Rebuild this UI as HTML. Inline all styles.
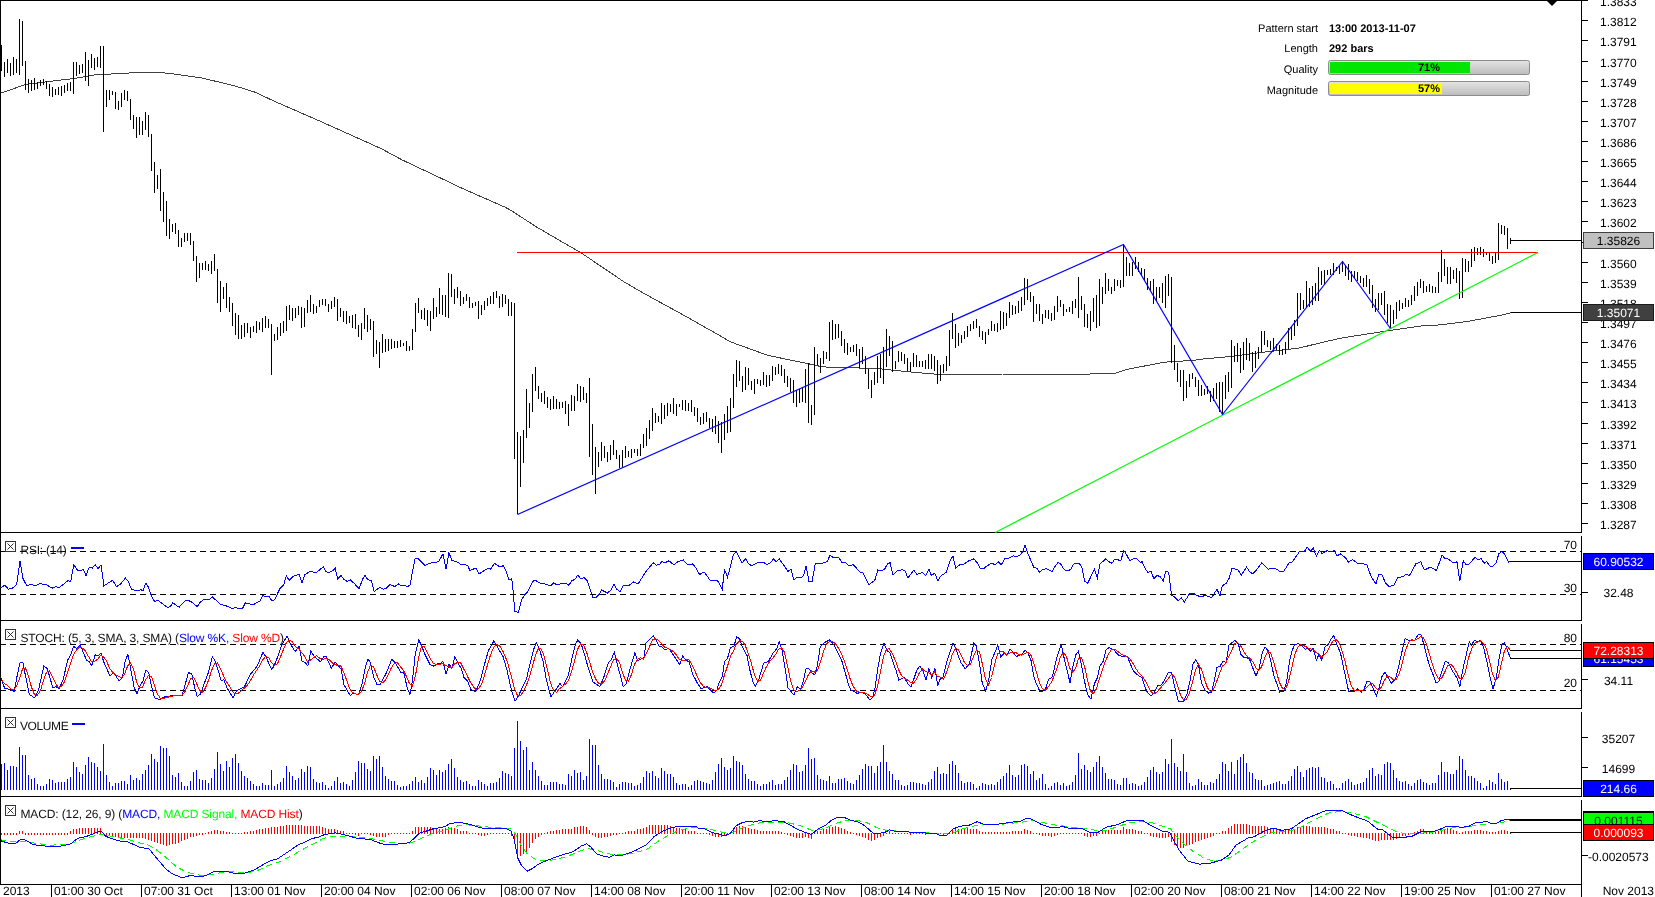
<!DOCTYPE html>
<html lang="en"><head><meta charset="utf-8"><title>EUR/USD pattern chart</title>
<style>html,body{margin:0;padding:0;background:#fff;overflow:hidden}svg{display:block;font-family:"Liberation Sans", Arial, sans-serif;font-size:12px;will-change:transform}.info{position:absolute;left:0;top:0}</style></head><body>
<svg width="1655" height="897" viewBox="0 0 1655 897" shape-rendering="crispEdges" text-rendering="geometricPrecision">
<rect width="1655" height="897" fill="#fff"/>
<rect x="0" y="0" width="1" height="885" fill="#000"/>
<rect x="0" y="0" width="1582" height="1" fill="#000"/>
<rect x="0" y="532" width="1582" height="1" fill="#000"/>
<rect x="0" y="620" width="1582" height="1" fill="#000"/>
<rect x="0" y="708" width="1582" height="1" fill="#000"/>
<rect x="0" y="796" width="1582" height="1" fill="#000"/>
<rect x="0" y="884" width="1582" height="1" fill="#000"/>
<rect x="1581" y="0" width="1" height="533" fill="#000"/>
<rect x="1581" y="536" width="1" height="85" fill="#000"/>
<rect x="1581" y="624" width="1" height="85" fill="#000"/>
<rect x="1581" y="712" width="1" height="85" fill="#000"/>
<rect x="1581" y="800" width="1" height="97" fill="#000"/>
<polygon points="1546,0 1558,0 1552,6" fill="#000" shape-rendering="geometricPrecision"/>
<rect x="1581" y="0" width="7" height="1" fill="#000"/>
<text x="1600" y="5.6" text-anchor="start" fill="#000" font-weight="normal" font-size="12">1.3833</text>
<rect x="1581" y="20" width="7" height="1" fill="#000"/>
<text x="1600" y="25.6" text-anchor="start" fill="#000" font-weight="normal" font-size="12">1.3812</text>
<rect x="1581" y="40" width="7" height="1" fill="#000"/>
<text x="1600" y="45.6" text-anchor="start" fill="#000" font-weight="normal" font-size="12">1.3791</text>
<rect x="1581" y="61" width="7" height="1" fill="#000"/>
<text x="1600" y="66.6" text-anchor="start" fill="#000" font-weight="normal" font-size="12">1.3770</text>
<rect x="1581" y="81" width="7" height="1" fill="#000"/>
<text x="1600" y="86.6" text-anchor="start" fill="#000" font-weight="normal" font-size="12">1.3749</text>
<rect x="1581" y="101" width="7" height="1" fill="#000"/>
<text x="1600" y="106.6" text-anchor="start" fill="#000" font-weight="normal" font-size="12">1.3728</text>
<rect x="1581" y="121" width="7" height="1" fill="#000"/>
<text x="1600" y="126.6" text-anchor="start" fill="#000" font-weight="normal" font-size="12">1.3707</text>
<rect x="1581" y="141" width="7" height="1" fill="#000"/>
<text x="1600" y="146.6" text-anchor="start" fill="#000" font-weight="normal" font-size="12">1.3686</text>
<rect x="1581" y="161" width="7" height="1" fill="#000"/>
<text x="1600" y="166.6" text-anchor="start" fill="#000" font-weight="normal" font-size="12">1.3665</text>
<rect x="1581" y="181" width="7" height="1" fill="#000"/>
<text x="1600" y="186.6" text-anchor="start" fill="#000" font-weight="normal" font-size="12">1.3644</text>
<rect x="1581" y="201" width="7" height="1" fill="#000"/>
<text x="1600" y="206.6" text-anchor="start" fill="#000" font-weight="normal" font-size="12">1.3623</text>
<rect x="1581" y="221" width="7" height="1" fill="#000"/>
<text x="1600" y="226.6" text-anchor="start" fill="#000" font-weight="normal" font-size="12">1.3602</text>
<rect x="1581" y="242" width="7" height="1" fill="#000"/>
<text x="1600" y="247.6" text-anchor="start" fill="#000" font-weight="normal" font-size="12">1.3581</text>
<rect x="1581" y="262" width="7" height="1" fill="#000"/>
<text x="1600" y="267.6" text-anchor="start" fill="#000" font-weight="normal" font-size="12">1.3560</text>
<rect x="1581" y="282" width="7" height="1" fill="#000"/>
<text x="1600" y="287.6" text-anchor="start" fill="#000" font-weight="normal" font-size="12">1.3539</text>
<rect x="1581" y="302" width="7" height="1" fill="#000"/>
<text x="1600" y="307.6" text-anchor="start" fill="#000" font-weight="normal" font-size="12">1.3518</text>
<rect x="1581" y="322" width="7" height="1" fill="#000"/>
<text x="1600" y="327.6" text-anchor="start" fill="#000" font-weight="normal" font-size="12">1.3497</text>
<rect x="1581" y="342" width="7" height="1" fill="#000"/>
<text x="1600" y="347.6" text-anchor="start" fill="#000" font-weight="normal" font-size="12">1.3476</text>
<rect x="1581" y="362" width="7" height="1" fill="#000"/>
<text x="1600" y="367.6" text-anchor="start" fill="#000" font-weight="normal" font-size="12">1.3455</text>
<rect x="1581" y="382" width="7" height="1" fill="#000"/>
<text x="1600" y="387.6" text-anchor="start" fill="#000" font-weight="normal" font-size="12">1.3434</text>
<rect x="1581" y="402" width="7" height="1" fill="#000"/>
<text x="1600" y="407.6" text-anchor="start" fill="#000" font-weight="normal" font-size="12">1.3413</text>
<rect x="1581" y="423" width="7" height="1" fill="#000"/>
<text x="1600" y="428.6" text-anchor="start" fill="#000" font-weight="normal" font-size="12">1.3392</text>
<rect x="1581" y="443" width="7" height="1" fill="#000"/>
<text x="1600" y="448.6" text-anchor="start" fill="#000" font-weight="normal" font-size="12">1.3371</text>
<rect x="1581" y="463" width="7" height="1" fill="#000"/>
<text x="1600" y="468.6" text-anchor="start" fill="#000" font-weight="normal" font-size="12">1.3350</text>
<rect x="1581" y="483" width="7" height="1" fill="#000"/>
<text x="1600" y="488.6" text-anchor="start" fill="#000" font-weight="normal" font-size="12">1.3329</text>
<rect x="1581" y="503" width="7" height="1" fill="#000"/>
<text x="1600" y="508.6" text-anchor="start" fill="#000" font-weight="normal" font-size="12">1.3308</text>
<rect x="1581" y="523" width="7" height="1" fill="#000"/>
<text x="1600" y="528.6" text-anchor="start" fill="#000" font-weight="normal" font-size="12">1.3287</text>
<g id="price">
<polyline points="0.5,93.3 25.5,84.5 48.5,81.5 74.5,78.5 94.5,74.9 104.5,74.4 139.5,72.4 157.5,72.1 174.5,74.1 201.5,77.9 234.5,85.8 254.5,92.0 276.5,102.2 318.5,120.5 380.5,148.3 402.5,160.1 447.5,181.3 462.5,188.5 505.5,207.4 511.5,210.7 536.5,227.0 581.5,253.1 623.5,281.5 643.5,293.2 688.5,317.8 700.5,324.7 720.5,336.0 729.5,341.5 767.5,355.3 809.5,364.0 822.5,366.9 851.5,367.7 881.5,369.0 909.5,371.9 939.5,374.5 976.5,374.9 1002.5,374.0 1089.5,374.0 1114.5,373.5 1127.5,369.3 1144.5,366.0 1161.5,362.7 1172.5,361.3 1190.5,360.8 1203.5,359.0 1232.5,356.3 1260.5,352.5 1298.5,348.2 1327.5,341.1 1343.5,337.7 1386.5,331.0 1421.5,326.0 1437.5,325.1 1467.5,321.5 1501.5,315.1 1510.5,312.9" fill="none" stroke="#404040" stroke-width="1"/>
<path d="M1.5 45V71M4.5 62V77M7.5 59V73M10.5 63V76M13.5 57V75M16.5 59V73M19.5 19V75M22.5 21V66M25.5 61V90M28.5 79V93M31.5 80V91M34.5 78V90M37.5 82V89M40.5 80V86M43.5 79V85M46.5 81V89M49.5 84V96M52.5 87V97M55.5 89V95M58.5 87V95M61.5 86V96M64.5 85V93M67.5 83V91M70.5 82V91M73.5 62V94M76.5 62V76M79.5 65V74M82.5 64V73M85.5 52V81M88.5 60V86M91.5 54V68M94.5 58V70M97.5 57V67M100.5 46V68M103.5 46V132M106.5 90V107M109.5 90V100M112.5 91V95M115.5 92V109M118.5 101V110M121.5 93V107M124.5 90V100M127.5 91V101M130.5 99V120M133.5 115V129M136.5 117V138M139.5 117V135M142.5 121V135M145.5 112V130M148.5 115V137M151.5 134V171M154.5 162V193M157.5 175V189M160.5 169V211M163.5 192V222M166.5 201V236M169.5 219V239M172.5 224V232M175.5 223V234M178.5 230V247M181.5 238V247M184.5 233V242M187.5 233V241M190.5 233V245M193.5 241V261M196.5 256V282M199.5 263V278M202.5 263V270M205.5 261V270M208.5 264V271M211.5 261V274M214.5 254V271M217.5 269V303M220.5 281V312M223.5 287V299M226.5 283V308M229.5 297V312M232.5 303V326M235.5 313V335M238.5 315V339M241.5 325V339M244.5 323V337M247.5 323V333M250.5 327V338M253.5 326V332M256.5 321V333M259.5 322V330M262.5 318V332M265.5 316V328M268.5 319V328M271.5 324V375M274.5 334V341M277.5 327V340M280.5 323V336M283.5 321V333M286.5 306V331M289.5 305V320M292.5 308V321M295.5 308V318M298.5 306V315M301.5 307V328M304.5 308V327M307.5 300V313M310.5 295V312M313.5 304V314M316.5 306V313M319.5 300V307M322.5 299V305M325.5 299V306M328.5 304V312M331.5 301V309M334.5 297V307M337.5 299V321M340.5 308V317M343.5 311V322M346.5 311V324M349.5 316V323M352.5 315V328M355.5 314V329M358.5 325V337M361.5 323V340M364.5 308V329M367.5 315V332M370.5 319V330M373.5 321V357M376.5 340V354M379.5 342V368M382.5 334V353M385.5 339V352M388.5 339V351M391.5 339V349M394.5 341V348M397.5 341V348M400.5 340V347M403.5 343V346M406.5 341V351M409.5 346V351M412.5 329V350M415.5 303V332M418.5 298V313M421.5 310V319M424.5 308V320M427.5 310V326M430.5 311V331M433.5 298V319M436.5 307V317M439.5 288V314M442.5 295V315M445.5 295V317M448.5 273V318M451.5 274V297M454.5 289V304M457.5 287V298M460.5 291V306M463.5 297V304M466.5 294V301M469.5 297V308M472.5 303V308M475.5 302V306M478.5 301V319M481.5 305V315M484.5 301V310M487.5 298V306M490.5 296V304M493.5 292V304M496.5 291V298M499.5 296V308M502.5 294V307M505.5 295V304M508.5 299V316M511.5 302V316M514.5 303V459M517.5 432V514M520.5 436V487M523.5 430V463M526.5 389V438M529.5 403V428M532.5 374V412M535.5 367V391M538.5 386V399M541.5 393V402M544.5 391V404M547.5 397V408M550.5 399V410M553.5 396V409M556.5 399V409M559.5 402V409M562.5 402V408M565.5 401V414M568.5 404V426M571.5 395V411M574.5 396V411M577.5 384V401M580.5 386V402M583.5 387V400M586.5 393V403M589.5 378V457M592.5 424V475M595.5 447V494M598.5 452V467M601.5 442V461M604.5 446V458M607.5 452V462M610.5 445V460M613.5 440V455M616.5 450V459M619.5 455V468M622.5 450V467M625.5 446V458M628.5 451V457M631.5 449V458M634.5 449V453M637.5 449V456M640.5 444V456M643.5 434V448M646.5 428V446M649.5 420V439M652.5 408V431M655.5 413V423M658.5 416V422M661.5 403V424M664.5 405V419M667.5 403V416M670.5 404V412M673.5 398V414M676.5 404V416M679.5 404V407M682.5 400V410M685.5 400V411M688.5 403V411M691.5 400V412M694.5 407V416M697.5 408V422M700.5 417V425M703.5 413V424M706.5 412V422M709.5 418V428M712.5 419V432M715.5 416V434M718.5 421V443M721.5 422V453M724.5 414V440M727.5 406V433M730.5 398V432M733.5 374V408M736.5 360V387M739.5 361V381M742.5 376V392M745.5 367V390M748.5 368V385M751.5 381V390M754.5 379V394M757.5 379V384M760.5 380V386M763.5 372V385M766.5 375V387M769.5 375V386M772.5 366V381M775.5 367V375M778.5 364V374M781.5 365V376M784.5 369V383M787.5 376V387M790.5 378V392M793.5 380V403M796.5 390V407M799.5 389V403M802.5 387V402M805.5 369V403M808.5 363V423M811.5 405V425M814.5 347V415M817.5 354V365M820.5 358V373M823.5 351V364M826.5 352V359M829.5 322V361M832.5 320V340M835.5 324V339M838.5 324V338M841.5 331V346M844.5 339V353M847.5 343V355M850.5 347V352M853.5 345V352M856.5 344V356M859.5 349V368M862.5 347V364M865.5 356V374M868.5 369V389M871.5 380V398M874.5 372V385M877.5 356V383M880.5 354V378M883.5 347V384M886.5 329V367M889.5 336V356M892.5 341V372M895.5 361V369M898.5 351V362M901.5 352V361M904.5 354V364M907.5 358V371M910.5 362V372M913.5 353V367M916.5 355V367M919.5 361V367M922.5 361V367M925.5 360V369M928.5 354V369M931.5 354V369M934.5 356V371M937.5 360V384M940.5 365V381M943.5 364V373M946.5 356V371M949.5 330V366M952.5 313V339M955.5 324V348M958.5 333V346M961.5 335V343M964.5 331V339M967.5 326V337M970.5 324V331M973.5 321V329M976.5 319V328M979.5 326V337M982.5 331V340M985.5 332V344M988.5 329V335M991.5 321V331M994.5 324V331M997.5 323V332M1000.5 311V330M1003.5 312V329M1006.5 313V326M1009.5 302V318M1012.5 305V315M1015.5 306V314M1018.5 301V313M1021.5 297V311M1024.5 278V305M1027.5 279V300M1030.5 292V302M1033.5 296V322M1036.5 304V314M1039.5 304V321M1042.5 314V324M1045.5 310V318M1048.5 310V319M1051.5 313V321M1054.5 306V320M1057.5 296V312M1060.5 300V307M1063.5 304V316M1066.5 309V312M1069.5 307V312M1072.5 301V314M1075.5 299V308M1078.5 277V318M1081.5 296V310M1084.5 304V327M1087.5 314V328M1090.5 311V331M1093.5 298V322M1096.5 295V328M1099.5 279V326M1102.5 287V304M1105.5 273V294M1108.5 279V291M1111.5 287V294M1114.5 279V291M1117.5 280V286M1120.5 280V288M1123.5 244V287M1126.5 257V276M1129.5 263V276M1132.5 262V276M1135.5 257V269M1138.5 262V272M1141.5 268V276M1144.5 269V281M1147.5 278V290M1150.5 281V291M1153.5 279V304M1156.5 287V301M1159.5 287V298M1162.5 283V303M1165.5 276V308M1168.5 274V296M1171.5 277V363M1174.5 345V370M1177.5 363V382M1180.5 370V387M1183.5 370V401M1186.5 381V398M1189.5 374V387M1192.5 373V379M1195.5 377V387M1198.5 380V396M1201.5 385V396M1204.5 389V395M1207.5 386V394M1210.5 391V402M1213.5 388V401M1216.5 383V399M1219.5 382V412M1222.5 382V414M1225.5 375V399M1228.5 372V392M1231.5 340V388M1234.5 346V362M1237.5 343V362M1240.5 348V373M1243.5 342V370M1246.5 338V360M1249.5 343V361M1252.5 352V372M1255.5 351V368M1258.5 347V359M1261.5 331V352M1264.5 331V345M1267.5 340V347M1270.5 341V350M1273.5 338V351M1276.5 344V350M1279.5 345V355M1282.5 349V355M1285.5 342V354M1288.5 328V349M1291.5 326V340M1294.5 320V336M1297.5 293V326M1300.5 293V310M1303.5 300V309M1306.5 281V307M1309.5 288V307M1312.5 286V305M1315.5 283V301M1318.5 267V301M1321.5 271V285M1324.5 270V284M1327.5 270V275M1330.5 269V275M1333.5 263V275M1336.5 267V271M1339.5 266V274M1342.5 261V272M1345.5 265V276M1348.5 264V280M1351.5 271V282M1354.5 271V278M1357.5 272V281M1360.5 276V283M1363.5 278V287M1366.5 275V287M1369.5 279V294M1372.5 285V308M1375.5 299V312M1378.5 293V310M1381.5 293V305M1384.5 291V315M1387.5 304V323M1390.5 305V328M1393.5 310V324M1396.5 302V319M1399.5 300V311M1402.5 303V309M1405.5 298V307M1408.5 300V307M1411.5 295V305M1414.5 286V301M1417.5 282V296M1420.5 279V288M1423.5 281V293M1426.5 286V292M1429.5 284V292M1432.5 286V293M1435.5 287V293M1438.5 272V293M1441.5 250V282M1444.5 259V276M1447.5 267V284M1450.5 267V284M1453.5 270V279M1456.5 268V283M1459.5 271V299M1462.5 258V298M1465.5 259V272M1468.5 261V272M1471.5 249V267M1474.5 247V261M1477.5 248V255M1480.5 247V255M1483.5 249V257M1486.5 253V255M1489.5 253V261M1492.5 256V264M1495.5 253V263M1498.5 223V260M1501.5 225V234M1504.5 226V235M1507.5 228V249M1510.5 238V244" stroke="#000" stroke-width="1" fill="none"/>
</g>
<rect x="1510" y="240" width="72" height="1" fill="#000"/>
<rect x="1510" y="312" width="72" height="1" fill="#404040"/>
<rect x="1511" y="312" width="71" height="1" fill="#000"/>
<polyline points="516.5,252.5 1537.5,252.5" fill="none" stroke="#ff0000" stroke-width="1"/>
<polyline points="995.2,532.5 1537.5,252.7" fill="none" stroke="#00ff00" stroke-width="1.2" shape-rendering="geometricPrecision" stroke-linejoin="round"/>
<polyline points="517.5,514.5 1123.5,244.5 1222.5,414.5 1342.5,261.5 1390.5,328.5" fill="none" stroke="#0000ff" stroke-width="1.2" shape-rendering="geometricPrecision" stroke-linejoin="round"/>
<rect x="1583.5" y="232.5" width="70" height="16" fill="#c0c0c0" stroke="#404040" stroke-width="1"/>
<text x="1618.5" y="245" text-anchor="middle" fill="#000" font-weight="normal" font-size="12">1.35826</text>
<rect x="1583.5" y="304.5" width="70" height="16" fill="#404040" stroke="#1a1a1a" stroke-width="1"/>
<text x="1618.5" y="317" text-anchor="middle" fill="#fff" font-weight="normal" font-size="12">1.35071</text>
<text x="1318" y="32" text-anchor="end" fill="#000" font-weight="normal" font-size="11">Pattern start</text>
<text x="1318" y="52" text-anchor="end" fill="#000" font-weight="normal" font-size="11">Length</text>
<text x="1318" y="73" text-anchor="end" fill="#000" font-weight="normal" font-size="11">Quality</text>
<text x="1318" y="94" text-anchor="end" fill="#000" font-weight="normal" font-size="11">Magnitude</text>
<text x="1329" y="32" text-anchor="start" fill="#000" font-weight="bold" font-size="11">13:00 2013-11-07</text>
<text x="1329" y="52" text-anchor="start" fill="#000" font-weight="bold" font-size="11">292 bars</text>
<defs><linearGradient id="pg" x1="0" y1="0" x2="0" y2="1"><stop offset="0" stop-color="#e4e4e4"/><stop offset="0.45" stop-color="#d2d2d2"/><stop offset="1" stop-color="#bcbcbc"/></linearGradient></defs>
<rect x="1328.5" y="60.5" width="201" height="14" rx="2" ry="2" fill="url(#pg)" stroke="#8c8c8c" shape-rendering="geometricPrecision"/>
<rect x="1330" y="62" width="140" height="11" fill="#00e600"/>
<text x="1429" y="71" text-anchor="middle" fill="#000" font-weight="bold" font-size="11">71%</text>
<rect x="1328.5" y="81.5" width="201" height="14" rx="2" ry="2" fill="url(#pg)" stroke="#8c8c8c" shape-rendering="geometricPrecision"/>
<rect x="1330" y="83" width="112" height="11" fill="#ffff00"/>
<text x="1429" y="92" text-anchor="middle" fill="#000" font-weight="bold" font-size="11">57%</text>
<line x1="0" y1="551.5" x2="1581" y2="551.5" stroke="#000" stroke-width="1" stroke-dasharray="6 4"/>
<line x1="0" y1="594.5" x2="1581" y2="594.5" stroke="#000" stroke-width="1" stroke-dasharray="6 4"/>
<polyline points="0.5,588.1 4.8,585.2 8.3,589.1 12.2,588.5 16.7,584.2 20.0,560.8 22.9,578.4 26.8,585.8 31.7,584.2 34.7,585.8 39.5,583.9 45.4,584.2 52.2,588.1 56.1,586.6 59.0,587.8 67.8,580.7 70.8,581.3 73.7,564.7 77.6,570.2 80.5,570.6 83.4,569.6 86.0,575.5 89.3,567.1 92.2,568.2 95.2,564.7 98.1,568.6 101.0,564.7 103.9,585.8 112.7,580.3 116.6,586.6 120.5,584.2 125.4,578.0 128.3,581.3 131.3,589.1 138.1,591.1 141.0,589.7 143.0,590.7 145.9,582.9 148.4,587.2 151.8,596.9 154.7,601.8 157.6,600.2 167.4,607.3 170.3,606.7 172.8,602.8 179.1,607.3 185.9,599.9 190.8,601.4 197.2,606.7 200.5,601.8 203.5,599.9 209.3,599.5 212.3,596.9 221.0,604.7 224.9,605.3 232.7,608.6 235.7,607.3 238.6,608.6 242.5,608.6 245.4,602.8 253.2,604.7 260.1,600.8 263.0,595.6 265.9,596.9 268.9,596.0 271.8,600.8 274.7,599.9 279.6,589.1 283.5,585.2 286.4,576.0 289.3,580.3 293.2,576.4 299.1,574.1 302.0,582.9 305.0,574.5 310.8,571.0 315.7,572.9 323.5,566.7 325.5,571.0 328.4,572.9 332.3,571.0 335.2,568.2 337.6,578.8 341.1,575.5 344.0,579.4 346.9,581.3 350.4,579.9 354.7,583.9 359.2,588.7 362.5,579.4 364.9,575.1 368.0,579.9 371.3,580.3 374.2,591.7 379.7,587.2 383.0,589.1 386.0,588.7 389.5,584.8 391.8,585.2 394.7,586.6 398.6,583.9 400.6,585.2 403.9,585.2 407.4,586.6 410.0,585.2 412.3,572.5 415.2,558.5 418.2,558.9 425.0,565.7 429.9,563.2 435.7,562.2 438.6,561.8 442.9,554.0 446.1,569.2 449.0,552.6 451.9,560.8 456.2,561.2 461.1,564.7 467.5,565.1 469.9,570.6 475.7,568.0 479.2,573.9 484.5,570.2 488.4,568.2 491.0,569.2 494.3,563.2 500.1,567.1 503.1,565.7 506.0,570.6 508.9,579.9 511.8,578.8 513.2,592.0 514.8,611.2 518.3,612.5 521.6,599.9 524.5,595.0 527.4,592.0 533.3,580.9 536.2,580.9 539.2,582.9 543.1,583.3 550.5,585.8 553.8,582.9 556.7,584.8 560.6,583.9 566.5,583.9 569.0,585.2 571.8,580.9 575.3,579.0 577.8,575.1 581.1,579.0 584.0,577.4 587.0,580.3 589.9,588.7 592.8,597.9 595.8,597.9 598.7,595.0 601.6,590.1 607.5,593.0 610.8,590.1 613.9,584.2 616.8,589.1 620.2,591.7 623.1,585.8 628.5,585.8 633.8,581.7 638.1,583.9 646.5,570.6 653.3,562.8 656.3,565.1 659.2,564.7 662.1,561.4 665.0,562.8 668.9,560.8 673.8,564.7 677.7,561.8 683.2,559.8 686.5,563.8 689.4,564.7 692.4,563.8 695.3,567.1 699.6,574.5 704.1,571.9 709.9,579.9 713.8,580.9 717.7,580.9 722.2,589.1 724.6,569.6 727.5,577.4 733.3,555.0 736.3,552.0 742.1,562.8 745.6,558.9 749.0,564.3 751.9,565.7 757.7,562.8 763.6,562.4 767.1,564.7 770.4,562.8 773.4,558.9 776.3,561.8 779.2,558.9 784.1,565.7 788.0,571.6 790.9,569.0 793.9,579.9 796.8,577.4 800.7,578.0 803.6,575.5 806.1,565.7 809.1,581.9 812.0,581.9 815.3,563.8 821.2,563.8 824.1,562.4 827.0,561.8 830.0,555.4 833.9,557.9 838.7,557.3 841.7,562.4 845.6,562.4 848.5,565.7 853.4,564.7 860.2,572.5 863.1,573.1 869.0,584.8 874.8,580.3 877.8,570.0 881.7,570.6 884.6,569.2 887.5,563.8 890.1,562.8 893.0,575.1 897.3,571.0 902.2,569.6 905.1,571.0 908.0,578.0 913.9,570.0 916.8,574.5 922.7,572.5 925.6,575.5 928.9,569.2 931.4,575.5 934.8,573.1 937.9,580.9 940.2,576.4 946.1,572.5 950.0,560.8 952.9,555.9 955.8,568.2 959.7,564.7 963.6,564.3 969.5,560.4 973.8,558.9 977.3,562.8 980.2,568.2 983.2,569.0 987.1,565.7 991.9,563.2 994.9,564.7 998.4,561.8 1001.3,564.7 1004.6,558.9 1007.6,558.9 1013.4,555.9 1016.3,556.9 1019.9,555.0 1022.6,552.0 1025.1,545.2 1027.7,553.0 1033.9,567.7 1036.8,568.2 1039.8,572.5 1042.7,569.6 1046.6,568.6 1051.9,571.6 1055.4,565.7 1058.3,562.2 1061.2,564.7 1064.2,569.6 1067.1,571.0 1070.6,569.6 1073.5,564.1 1078.8,563.2 1081.7,566.7 1084.6,581.3 1087.6,583.3 1090.5,577.4 1094.4,569.6 1097.3,578.0 1099.9,564.1 1105.7,558.9 1109.0,561.8 1112.0,563.2 1114.9,558.9 1117.8,559.8 1120.8,560.8 1123.7,550.7 1125.6,553.0 1129.9,560.8 1133.4,558.9 1137.0,558.9 1140.3,562.4 1142.2,561.8 1145.1,568.6 1148.1,572.5 1151.0,571.2 1153.9,578.8 1157.2,575.5 1160.4,576.8 1163.3,580.9 1165.6,571.2 1168.6,572.1 1171.5,595.0 1174.4,596.9 1178.3,600.8 1181.3,597.5 1184.2,602.2 1190.0,593.0 1193.0,593.0 1195.9,595.0 1200.8,596.9 1204.7,595.6 1208.6,596.3 1211.5,597.9 1217.0,589.1 1219.9,596.0 1222.2,585.8 1226.1,583.3 1229.1,578.4 1232.0,568.2 1237.9,569.6 1241.2,575.1 1246.6,567.1 1249.6,571.6 1252.9,573.9 1258.3,567.7 1261.7,562.8 1268.1,569.2 1271.6,568.2 1276.9,569.2 1279.8,571.9 1283.3,571.9 1289.2,562.8 1292.5,561.8 1299.8,551.1 1304.7,551.1 1307.2,547.2 1310.5,551.1 1313.4,548.1 1316.4,556.5 1319.3,550.1 1322.2,553.6 1327.1,550.7 1331.0,552.0 1334.5,550.1 1336.9,555.9 1340.4,554.0 1345.6,557.9 1348.6,562.2 1352.5,559.5 1358.3,563.8 1363.2,563.8 1367.1,565.1 1371.0,576.4 1375.9,583.9 1378.8,574.1 1381.7,574.1 1385.6,583.3 1388.6,586.2 1393.5,585.8 1397.4,578.0 1403.2,576.4 1406.1,574.1 1409.5,575.5 1415.9,563.8 1420.8,561.8 1424.3,570.0 1430.5,567.1 1436.4,570.6 1442.2,555.0 1445.2,558.9 1448.1,558.9 1453.0,562.8 1456.9,561.8 1459.8,581.3 1463.3,560.8 1466.3,564.7 1469.6,563.8 1475.0,557.3 1478.0,559.8 1480.9,558.5 1484.2,563.2 1486.7,561.8 1490.1,566.1 1493.0,566.1 1496.5,562.2 1498.8,553.6 1501.8,551.7 1504.7,554.0 1508.6,562.2 1510.5,561.5" fill="none" stroke="#0000ff" stroke-width="1"/>
<rect x="1510" y="561" width="72" height="1" fill="#000"/>
<rect x="5.5" y="541.5" width="10" height="10" fill="#fff" stroke="#333"/>
<path d="M7.5 543.5L13.5 549.5M13.5 543.5L7.5 549.5" stroke="#333" stroke-width="1" fill="none" shape-rendering="geometricPrecision"/>
<text x="20.5" y="554" text-anchor="start" fill="#111" font-weight="normal" font-size="12" textLength="46.2" lengthAdjust="spacing">RSI: (14)</text>
<rect x="71" y="547" width="13" height="2" fill="#0000ff"/>
<text x="1577" y="548.7" text-anchor="end" fill="#000" font-weight="normal" font-size="12">70</text>
<text x="1577" y="592" text-anchor="end" fill="#000" font-weight="normal" font-size="12">30</text>
<rect x="1581" y="592" width="7" height="1" fill="#000"/>
<text x="1618.5" y="597" text-anchor="middle" fill="#000" font-weight="normal" font-size="12">32.48</text>
<rect x="1583.5" y="553.5" width="70" height="16" fill="#0000ff" stroke="#000" stroke-width="1"/>
<text x="1618.5" y="566" text-anchor="middle" fill="#fff" font-weight="normal" font-size="12">60.90532</text>
<line x1="0" y1="644.5" x2="1581" y2="644.5" stroke="#000" stroke-width="1" stroke-dasharray="6 4"/>
<line x1="0" y1="690.5" x2="1581" y2="690.5" stroke="#000" stroke-width="1" stroke-dasharray="6 4"/>
<polyline points="0.5,676.9 4.8,688.7 10.3,689.2 14.2,691.6 16.7,677.9 20.0,662.9 22.9,662.9 25.9,677.9 29.4,694.5 34.7,698.0 38.6,689.6 43.8,666.2 47.3,668.6 52.8,687.7 56.1,686.7 59.0,689.0 63.0,679.9 67.8,660.0 70.8,654.5 73.7,646.3 76.6,648.6 80.1,644.7 83.4,652.6 86.4,660.0 89.3,661.9 91.8,665.8 95.2,654.9 98.1,656.1 101.0,652.9 103.9,662.3 109.8,675.6 113.7,673.0 119.2,680.9 122.5,676.9 125.4,660.0 127.9,654.5 130.9,670.1 134.2,687.7 137.1,693.9 140.0,685.7 143.0,680.9 145.9,670.1 148.8,673.0 151.8,687.7 154.7,698.0 157.6,699.0 160.5,699.0 164.4,697.0 170.3,695.9 176.1,695.1 182.0,695.5 184.9,685.7 188.4,672.5 191.8,674.0 194.7,687.7 197.2,696.5 200.5,693.9 203.5,685.7 208.4,672.5 212.3,656.5 215.2,661.3 218.1,670.1 221.0,680.3 224.0,679.9 226.9,687.7 233.1,697.8 236.7,690.6 244.5,686.7 250.3,674.4 257.1,666.2 263.0,652.2 265.9,656.8 271.8,669.7 275.7,662.3 281.5,645.7 287.0,636.0 290.3,643.8 295.2,651.6 299.1,646.3 302.0,661.3 305.0,662.3 307.9,665.8 310.8,651.2 314.7,656.8 320.6,661.9 323.5,656.8 326.4,657.0 331.3,668.2 335.2,662.3 338.1,665.2 341.1,669.1 344.0,684.8 350.4,695.9 352.8,693.5 358.6,694.5 362.1,683.8 365.1,668.2 368.0,659.4 370.3,662.3 373.9,677.9 377.2,684.8 380.1,684.8 386.0,673.6 391.8,659.4 395.7,663.3 400.6,672.1 403.9,673.0 407.4,688.7 410.0,694.5 412.3,681.8 415.2,654.5 418.7,639.9 421.1,644.7 425.0,654.5 429.9,664.3 433.8,666.2 437.7,663.3 440.2,664.3 442.9,661.3 446.1,674.0 449.0,664.3 451.9,668.2 454.8,657.0 458.2,663.3 461.1,668.2 464.0,677.5 467.5,680.9 470.9,689.6 475.7,691.6 480.6,679.9 484.5,664.3 488.4,650.6 493.9,640.8 497.2,646.7 503.1,656.5 507.0,670.1 511.8,691.6 515.2,701.0 518.7,695.5 521.6,688.7 526.5,678.9 530.4,662.3 533.3,650.6 536.2,642.4 539.2,648.6 543.1,661.3 546.0,677.9 550.9,697.0 553.8,692.6 556.7,688.7 560.0,683.4 562.6,686.7 568.4,675.0 572.3,656.5 575.3,644.7 577.8,639.9 581.1,643.8 584.6,654.5 588.0,667.2 592.8,681.8 595.8,683.8 599.7,686.7 603.6,677.9 608.1,663.3 611.4,659.4 614.3,652.0 616.8,662.3 620.2,675.0 623.1,686.7 626.0,683.8 630.9,666.2 634.8,652.9 637.7,660.4 640.6,659.4 644.5,657.4 645.5,643.8 646.5,642.8 653.3,636.0 656.3,640.5 659.2,646.3 662.1,647.1 665.0,649.6 668.9,648.6 673.8,655.5 679.7,664.7 682.6,656.1 685.5,659.4 689.4,662.3 692.4,673.6 697.2,682.8 701.1,688.7 707.0,686.7 709.9,689.6 713.8,693.1 716.8,690.6 718.7,683.8 722.2,676.9 724.6,661.3 727.5,658.4 730.4,647.7 733.9,646.3 736.7,636.9 739.8,638.9 742.1,646.3 747.0,655.5 749.9,670.1 752.9,681.8 755.2,686.7 758.7,679.9 763.6,663.3 768.5,661.3 773.4,652.6 776.9,648.6 779.2,641.8 782.1,650.6 785.1,668.2 788.0,687.7 793.9,695.1 797.2,686.7 800.7,689.6 803.6,679.9 806.1,668.2 809.1,669.1 812.0,673.0 814.7,675.0 817.3,666.2 820.2,646.7 824.1,642.8 829.6,639.9 833.9,644.7 836.8,650.6 841.7,660.4 845.6,674.0 848.5,684.8 851.4,690.6 854.4,691.2 857.3,693.9 860.2,692.0 865.1,693.5 869.6,699.8 872.5,697.8 874.8,689.6 877.8,668.2 880.7,652.6 884.0,643.2 886.9,650.6 889.9,652.6 893.0,662.3 896.3,671.1 898.8,679.9 904.1,677.5 908.0,683.8 911.0,686.7 913.9,678.9 916.8,670.1 919.7,666.2 922.7,670.1 926.0,679.9 928.9,668.2 931.8,677.9 934.8,668.2 937.9,685.7 940.2,678.9 943.2,676.9 947.1,660.4 952.9,643.2 955.8,648.6 960.7,662.3 965.2,668.8 969.5,663.3 973.8,643.2 976.3,645.7 979.3,662.3 982.2,682.8 985.7,691.2 989.0,677.9 991.9,659.4 994.9,652.6 997.8,645.1 1000.7,656.8 1004.2,653.5 1006.6,655.5 1010.1,649.0 1013.4,652.6 1016.3,656.5 1022.2,654.1 1025.1,650.0 1028.0,652.9 1031.0,660.4 1033.9,676.9 1036.8,684.8 1040.2,692.0 1045.2,690.2 1048.5,679.5 1052.4,676.9 1056.3,659.4 1061.2,644.7 1064.2,658.4 1067.1,670.1 1070.0,682.8 1072.9,666.2 1075.9,654.5 1078.4,651.2 1081.7,666.2 1084.6,681.8 1087.6,694.5 1090.9,699.0 1094.4,683.8 1097.3,677.9 1099.9,666.2 1103.2,661.3 1106.1,649.6 1109.0,647.7 1113.9,650.0 1118.8,655.5 1123.7,656.5 1127.6,656.8 1130.5,664.3 1133.4,671.1 1137.7,675.0 1142.2,677.9 1145.1,687.7 1148.1,693.5 1151.0,695.9 1153.9,693.5 1157.8,685.7 1161.7,684.8 1164.7,679.9 1168.6,672.1 1171.5,672.1 1174.4,685.7 1178.3,701.0 1183.8,701.0 1187.1,693.5 1190.0,680.9 1193.0,664.3 1195.9,659.4 1198.8,666.2 1201.7,683.8 1204.7,689.6 1208.6,693.1 1211.5,692.6 1214.4,679.9 1217.0,667.2 1219.9,666.6 1222.8,661.3 1226.1,662.3 1229.1,644.4 1232.0,642.8 1234.9,640.3 1238.4,643.8 1240.8,654.1 1243.7,657.4 1246.6,657.4 1249.6,659.4 1252.9,668.2 1256.0,676.0 1259.3,668.2 1262.2,652.6 1265.2,647.3 1268.1,650.6 1271.0,662.3 1274.0,676.0 1279.8,692.0 1283.7,691.2 1286.6,681.8 1289.6,660.4 1292.5,649.6 1294.9,644.4 1298.8,643.8 1301.7,645.7 1305.2,649.2 1307.6,648.3 1310.5,651.2 1313.0,648.3 1316.4,660.0 1318.9,654.5 1321.8,660.0 1325.1,646.7 1328.1,644.7 1331.0,638.9 1333.9,635.6 1336.9,644.7 1340.4,652.6 1343.7,668.2 1348.6,691.2 1354.4,691.2 1357.3,688.7 1361.3,692.0 1364.2,688.7 1367.1,680.9 1370.0,681.8 1373.0,687.7 1376.3,695.9 1378.8,688.7 1381.7,676.9 1385.1,672.1 1387.6,676.9 1391.5,683.4 1395.4,678.9 1398.3,668.2 1401.3,654.5 1405.2,638.3 1409.1,640.8 1414.9,640.3 1417.9,635.0 1420.8,634.0 1423.7,643.8 1426.6,655.5 1429.6,666.2 1432.5,673.0 1436.0,682.8 1438.7,681.8 1442.2,670.1 1445.2,661.3 1448.1,662.3 1452.0,670.1 1456.9,677.9 1459.8,686.7 1462.7,670.1 1466.3,654.5 1469.2,641.8 1471.5,644.7 1474.4,640.3 1477.4,641.8 1480.9,640.3 1483.8,648.6 1486.7,660.4 1490.1,677.9 1493.0,689.0 1496.5,676.9 1498.8,660.4 1501.8,644.4 1504.7,642.8 1507.6,650.6 1510.5,658.5" fill="none" stroke="#0000ff" stroke-width="1"/>
<polyline points="1.5,679.6 4.5,683.8 7.5,685.5 10.5,688.7 13.5,689.8 16.5,686.5 19.5,678.4 22.5,669.0 25.5,668.0 28.5,676.3 31.5,687.3 34.5,694.7 37.5,695.2 40.5,690.3 43.5,680.2 46.5,672.2 49.5,670.6 52.5,677.0 55.5,683.3 58.5,687.4 61.5,686.3 64.5,681.9 67.5,672.7 70.5,663.3 73.5,654.4 76.5,650.1 79.5,646.9 82.5,648.1 85.5,651.2 88.5,656.5 91.5,661.5 94.5,661.3 97.5,659.4 100.5,655.5 103.5,656.8 106.5,660.9 109.5,668.0 112.5,672.3 115.5,674.8 118.5,676.4 121.5,677.9 124.5,674.4 127.5,666.2 130.5,662.9 133.5,669.1 136.5,681.5 139.5,687.9 142.5,687.1 145.5,680.1 148.5,675.3 151.5,676.8 154.5,685.4 157.5,694.2 160.5,698.4 163.5,698.5 166.5,697.7 169.5,696.7 172.5,696.1 175.5,695.6 178.5,695.3 181.5,695.3 184.5,692.6 187.5,686.1 190.5,678.8 193.5,677.1 196.5,683.2 199.5,690.3 202.5,692.4 205.5,687.8 208.5,680.3 211.5,670.7 214.5,664.0 217.5,662.7 220.5,669.0 223.5,675.6 226.5,681.7 229.5,686.2 232.5,691.8 235.5,693.9 238.5,693.2 241.5,690.3 244.5,688.2 247.5,685.1 250.5,680.4 253.5,675.0 256.5,670.5 259.5,666.0 262.5,660.3 265.5,656.7 268.5,657.3 271.5,662.6 274.5,665.4 277.5,663.6 280.5,656.8 283.5,649.3 286.5,642.5 289.5,640.3 292.5,642.0 295.5,646.8 298.5,648.5 301.5,652.3 304.5,656.0 307.5,662.1 310.5,660.1 313.5,657.7 316.5,655.4 319.5,658.1 322.5,659.3 325.5,658.8 328.5,659.1 331.5,662.2 334.5,664.4 337.5,665.3 340.5,665.4 343.5,671.7 346.5,679.8 349.5,688.5 352.5,692.4 355.5,694.0 358.5,694.1 361.5,691.4 364.5,683.8 367.5,672.6 370.5,665.1 373.5,666.8 376.5,674.2 379.5,681.4 382.5,682.8 385.5,679.9 388.5,674.1 391.5,667.4 394.5,663.2 397.5,662.9 400.5,666.9 403.5,670.4 406.5,676.5 409.5,683.6 412.5,686.0 415.5,675.5 418.5,658.0 421.5,646.6 424.5,646.6 427.5,652.8 430.5,659.1 433.5,663.4 436.5,664.9 439.5,664.8 442.5,663.3 445.5,665.8 448.5,666.4 451.5,668.4 454.5,663.9 457.5,662.6 460.5,662.4 463.5,668.4 466.5,674.3 469.5,680.6 472.5,685.4 475.5,689.3 478.5,688.9 481.5,684.2 484.5,675.2 487.5,664.8 490.5,655.0 493.5,647.4 496.5,644.6 499.5,645.8 502.5,650.5 505.5,657.0 508.5,665.7 511.5,677.3 514.5,688.7 517.5,695.6 520.5,695.9 523.5,691.2 526.5,685.0 529.5,676.6 532.5,666.3 535.5,654.8 538.5,648.5 541.5,649.2 544.5,657.5 547.5,669.7 550.5,682.8 553.5,690.7 556.5,692.5 559.5,688.7 562.5,686.6 565.5,683.9 568.5,680.6 571.5,671.9 574.5,660.9 577.5,649.5 580.5,643.8 583.5,644.9 586.5,651.9 589.5,661.5 592.5,671.4 595.5,678.7 598.5,683.4 601.5,684.0 604.5,681.1 607.5,674.3 610.5,666.9 613.5,659.9 616.5,658.5 619.5,662.5 622.5,672.6 625.5,680.3 628.5,681.1 631.5,674.4 634.5,664.3 637.5,659.3 640.5,657.7 643.5,659.1 646.5,653.4 649.5,646.8 652.5,639.8 655.5,638.6 658.5,640.3 661.5,643.7 664.5,647.0 667.5,648.4 670.5,649.7 673.5,651.6 676.5,655.2 679.5,659.7 682.5,660.2 685.5,660.1 688.5,659.1 691.5,663.7 694.5,669.8 697.5,677.0 700.5,682.9 703.5,686.3 706.5,687.5 709.5,688.0 712.5,689.3 715.5,690.9 718.5,689.4 721.5,684.8 724.5,674.9 727.5,666.2 730.5,656.0 733.5,650.8 736.5,643.9 739.5,640.9 742.5,641.1 745.5,646.1 748.5,654.3 751.5,664.0 754.5,674.9 757.5,681.3 760.5,680.4 763.5,673.2 766.5,666.5 769.5,661.8 772.5,658.6 775.5,654.6 778.5,649.4 781.5,647.6 784.5,652.4 787.5,665.9 790.5,680.0 793.5,689.9 796.5,691.3 799.5,690.6 802.5,686.9 805.5,681.1 808.5,674.5 811.5,670.8 814.5,672.0 817.5,670.7 820.5,662.0 823.5,651.6 826.5,643.8 829.5,641.6 832.5,641.5 835.5,643.7 838.5,648.4 841.5,654.0 844.5,661.4 847.5,670.4 850.5,680.0 853.5,687.0 856.5,691.0 859.5,692.2 862.5,692.8 865.5,693.1 868.5,695.0 871.5,696.9 874.5,695.8 877.5,686.5 880.5,671.6 883.5,656.2 886.5,649.3 889.5,648.8 892.5,654.2 895.5,660.7 898.5,669.5 901.5,675.5 904.5,678.6 907.5,679.9 910.5,682.5 913.5,683.1 916.5,679.1 919.5,672.5 922.5,669.1 925.5,671.6 928.5,672.7 931.5,675.0 934.5,672.0 937.5,676.5 940.5,677.1 943.5,679.3 946.5,672.4 949.5,664.0 952.5,653.5 955.5,648.6 958.5,649.5 961.5,655.9 964.5,662.5 967.5,665.7 970.5,664.1 973.5,656.4 976.5,650.0 979.5,651.7 982.5,664.7 985.5,679.3 988.5,684.7 991.5,677.5 994.5,665.1 997.5,653.8 1000.5,651.8 1003.5,652.0 1006.5,655.2 1009.5,653.2 1012.5,652.4 1015.5,652.4 1018.5,654.2 1021.5,655.1 1024.5,653.6 1027.5,652.5 1030.5,654.1 1033.5,662.1 1036.5,672.6 1039.5,683.0 1042.5,688.6 1045.5,690.3 1048.5,686.6 1051.5,682.1 1054.5,674.8 1057.5,666.9 1060.5,656.7 1063.5,652.6 1066.5,656.6 1069.5,667.8 1072.5,672.3 1075.5,668.4 1078.5,658.7 1081.5,657.7 1084.5,666.1 1087.5,680.2 1090.5,691.3 1093.5,693.4 1096.5,688.6 1099.5,678.4 1102.5,670.0 1105.5,660.8 1108.5,654.1 1111.5,649.6 1114.5,649.2 1117.5,651.2 1120.5,653.5 1123.5,655.4 1126.5,656.3 1129.5,658.3 1132.5,662.5 1135.5,667.9 1138.5,672.5 1141.5,675.3 1144.5,679.5 1147.5,685.2 1150.5,691.2 1153.5,693.9 1156.5,692.5 1159.5,689.1 1162.5,685.7 1165.5,682.4 1168.5,678.0 1171.5,674.2 1174.5,676.8 1177.5,685.4 1180.5,695.0 1183.5,700.0 1186.5,699.0 1189.5,693.0 1192.5,681.7 1195.5,670.1 1198.5,664.2 1201.5,669.4 1204.5,679.1 1207.5,688.0 1210.5,691.4 1213.5,689.6 1216.5,682.1 1219.5,673.4 1222.5,666.1 1225.5,663.5 1228.5,657.3 1231.5,651.1 1234.5,643.9 1237.5,642.2 1240.5,645.5 1243.5,651.0 1246.5,655.8 1249.5,658.0 1252.5,661.3 1255.5,667.1 1258.5,670.7 1261.5,667.1 1264.5,658.3 1267.5,651.6 1270.5,652.9 1273.5,661.3 1276.5,672.3 1279.5,682.6 1282.5,688.5 1285.5,689.3 1288.5,681.7 1291.5,669.0 1294.5,655.6 1297.5,647.5 1300.5,644.7 1303.5,645.5 1306.5,647.0 1309.5,648.8 1312.5,649.3 1315.5,652.0 1318.5,653.7 1321.5,657.2 1324.5,654.6 1327.5,651.2 1330.5,644.7 1333.5,640.4 1336.5,639.8 1339.5,643.4 1342.5,652.2 1345.5,663.2 1348.5,676.6 1351.5,686.2 1354.5,691.0 1357.5,690.4 1360.5,690.4 1363.5,689.9 1366.5,687.8 1369.5,684.6 1372.5,683.6 1375.5,687.4 1378.5,690.1 1381.5,687.1 1384.5,680.1 1387.5,675.8 1390.5,677.1 1393.5,679.8 1396.5,679.2 1399.5,672.9 1402.5,662.4 1405.5,650.2 1408.5,642.8 1411.5,639.8 1414.5,640.4 1417.5,638.9 1420.5,636.7 1423.5,637.6 1426.5,644.1 1429.5,654.7 1432.5,664.6 1435.5,673.4 1438.5,678.8 1441.5,678.6 1444.5,672.6 1447.5,666.0 1450.5,664.2 1453.5,667.2 1456.5,672.3 1459.5,678.5 1462.5,678.1 1465.5,671.7 1468.5,658.0 1471.5,649.2 1474.5,643.3 1477.5,642.3 1480.5,640.9 1483.5,643.3 1486.5,649.3 1489.5,660.7 1492.5,673.8 1495.5,680.8 1498.5,676.7 1501.5,663.0 1504.5,650.5 1507.5,646.4 1510.5,650.5" fill="none" stroke="#ff0000" stroke-width="1"/>
<rect x="1510" y="650" width="72" height="1" fill="#000"/>
<rect x="1510" y="658" width="72" height="1" fill="#000"/>
<rect x="5.5" y="629.5" width="10" height="10" fill="#fff" stroke="#333"/>
<path d="M7.5 631.5L13.5 637.5M13.5 631.5L7.5 637.5" stroke="#333" stroke-width="1" fill="none" shape-rendering="geometricPrecision"/>
<text x="20.5" y="642" fill="#111" textLength="263.5" lengthAdjust="spacing">STOCH: (5, 3, SMA, 3, SMA) (<tspan fill="#0000ff">Slow %K</tspan><tspan fill="#0000ff">,</tspan> <tspan fill="#ff0000">Slow %D</tspan>)</text>
<text x="1577" y="641.6" text-anchor="end" fill="#000" font-weight="normal" font-size="12">80</text>
<text x="1577" y="687.2" text-anchor="end" fill="#000" font-weight="normal" font-size="12">20</text>
<rect x="1581" y="679" width="7" height="1" fill="#000"/>
<text x="1618.5" y="684.6" text-anchor="middle" fill="#000" font-weight="normal" font-size="12">34.11</text>
<rect x="1583.5" y="650.5" width="70" height="16" fill="#0000ff" stroke="#000" stroke-width="1"/>
<text x="1618.5" y="663" text-anchor="middle" fill="#fff" font-weight="normal" font-size="12">61.15453</text>
<rect x="1583.5" y="642.5" width="70" height="16" fill="#ff0000" stroke="#000" stroke-width="1"/>
<text x="1618.5" y="655" text-anchor="middle" fill="#fff" font-weight="normal" font-size="12">72.28313</text>
<path d="M1.5 764V790M4.5 763V790M7.5 770V790M10.5 766V790M13.5 766V790M16.5 767V790M19.5 747V790M22.5 755V790M25.5 755V790M28.5 775V790M31.5 779V790M34.5 778V790M37.5 784V790M40.5 786V790M43.5 786V790M46.5 784V790M49.5 779V790M52.5 780V790M55.5 783V790M58.5 782V790M61.5 782V790M64.5 782V790M67.5 779V790M70.5 777V790M73.5 762V790M76.5 767V790M79.5 772V790M82.5 774V790M85.5 765V790M88.5 757V790M91.5 762V790M94.5 763V790M97.5 767V790M100.5 771V790M103.5 744V790M106.5 775V790M109.5 782V790M112.5 786V790M115.5 783V790M118.5 783V790M121.5 781V790M124.5 781V790M127.5 784V790M130.5 775V790M133.5 780V790M136.5 778V790M139.5 780V790M142.5 774V790M145.5 770V790M148.5 765V790M151.5 754V790M154.5 759V790M157.5 762V790M160.5 746V790M163.5 748V790M166.5 748V790M169.5 756V790M172.5 775V790M175.5 777V790M178.5 773V790M181.5 782V790M184.5 786V790M187.5 786V790M190.5 781V790M193.5 772V790M196.5 770V790M199.5 779V790M202.5 780V790M205.5 780V790M208.5 783V790M211.5 778V790M214.5 769V790M217.5 752V790M220.5 764V790M223.5 771V790M226.5 761V790M229.5 767V790M232.5 758V790M235.5 754V790M238.5 763V790M241.5 771V790M244.5 776V790M247.5 778V790M250.5 781V790M253.5 784V790M256.5 786V790M259.5 786V790M262.5 783V790M265.5 785V790M268.5 785V790M271.5 770V790M274.5 786V790M277.5 784V790M280.5 782V790M283.5 778V790M286.5 766V790M289.5 772V790M292.5 776V790M295.5 780V790M298.5 778V790M301.5 769V790M304.5 772V790M307.5 766V790M310.5 767V790M313.5 779V790M316.5 782V790M319.5 783V790M322.5 782V790M325.5 785V790M328.5 788V790M331.5 786V790M334.5 781V790M337.5 777V790M340.5 783V790M343.5 782V790M346.5 784V790M349.5 786V790M352.5 780V790M355.5 772V790M358.5 761V790M361.5 763V790M364.5 763V790M367.5 769V790M370.5 771V790M373.5 756V790M376.5 759V790M379.5 756V790M382.5 767V790M385.5 776V790M388.5 779V790M391.5 781V790M394.5 781V790M397.5 785V790M400.5 787V790M403.5 786V790M406.5 786V790M409.5 784V790M412.5 781V790M415.5 777V790M418.5 782V790M421.5 780V790M424.5 783V790M427.5 777V790M430.5 768V790M433.5 770V790M436.5 775V790M439.5 770V790M442.5 772V790M445.5 770V790M448.5 764V790M451.5 759V790M454.5 768V790M457.5 777V790M460.5 780V790M463.5 782V790M466.5 781V790M469.5 784V790M472.5 786V790M475.5 786V790M478.5 780V790M481.5 782V790M484.5 784V790M487.5 786V790M490.5 783V790M493.5 783V790M496.5 782V790M499.5 778V790M502.5 771V790M505.5 773V790M508.5 774V790M511.5 776V790M514.5 748V790M517.5 721V790M520.5 741V790M523.5 750V790M526.5 747V790M529.5 770V790M532.5 762V790M535.5 770V790M538.5 776V790M541.5 781V790M544.5 785V790M547.5 785V790M550.5 782V790M553.5 782V790M556.5 782V790M559.5 784V790M562.5 784V790M565.5 785V790M568.5 774V790M571.5 776V790M574.5 770V790M577.5 773V790M580.5 772V790M583.5 780V790M586.5 776V790M589.5 739V790M592.5 745V790M595.5 745V790M598.5 765V790M601.5 774V790M604.5 779V790M607.5 779V790M610.5 780V790M613.5 782V790M616.5 787V790M619.5 784V790M622.5 782V790M625.5 782V790M628.5 783V790M631.5 783V790M634.5 786V790M637.5 785V790M640.5 783V790M643.5 777V790M646.5 771V790M649.5 773V790M652.5 771V790M655.5 776V790M658.5 778V790M661.5 768V790M664.5 771V790M667.5 774V790M670.5 774V790M673.5 777V790M676.5 783V790M679.5 785V790M682.5 784V790M685.5 784V790M688.5 787V790M691.5 785V790M694.5 781V790M697.5 780V790M700.5 781V790M703.5 782V790M706.5 783V790M709.5 784V790M712.5 780V790M715.5 772V790M718.5 764V790M721.5 758V790M724.5 767V790M727.5 770V790M730.5 768V790M733.5 756V790M736.5 761V790M739.5 762V790M742.5 765V790M745.5 774V790M748.5 779V790M751.5 781V790M754.5 781V790M757.5 784V790M760.5 786V790M763.5 784V790M766.5 784V790M769.5 782V790M772.5 780V790M775.5 785V790M778.5 784V790M781.5 784V790M784.5 780V790M787.5 777V790M790.5 770V790M793.5 764V790M796.5 765V790M799.5 772V790M802.5 771V790M805.5 765V790M808.5 748V790M811.5 759V790M814.5 758V790M817.5 775V790M820.5 779V790M823.5 780V790M826.5 781V790M829.5 776V790M832.5 783V790M835.5 783V790M838.5 779V790M841.5 779V790M844.5 778V790M847.5 781V790M850.5 783V790M853.5 784V790M856.5 780V790M859.5 775V790M862.5 769V790M865.5 764V790M868.5 766V790M871.5 766V790M874.5 773V790M877.5 766V790M880.5 762V790M883.5 745V790M886.5 762V790M889.5 771V790M892.5 774V790M895.5 780V790M898.5 780V790M901.5 785V790M904.5 786V790M907.5 785V790M910.5 782V790M913.5 782V790M916.5 783V790M919.5 783V790M922.5 784V790M925.5 785V790M928.5 782V790M931.5 779V790M934.5 771V790M937.5 767V790M940.5 774V790M943.5 773V790M946.5 774V790M949.5 764V790M952.5 761V790M955.5 765V790M958.5 773V790M961.5 781V790M964.5 783V790M967.5 782V790M970.5 782V790M973.5 784V790M976.5 788V790M979.5 786V790M982.5 783V790M985.5 784V790M988.5 785V790M991.5 784V790M994.5 785V790M997.5 782V790M1000.5 779V790M1003.5 776V790M1006.5 773V790M1009.5 765V790M1012.5 775V790M1015.5 777V790M1018.5 775V790M1021.5 765V790M1024.5 764V790M1027.5 766V790M1030.5 774V790M1033.5 771V790M1036.5 780V790M1039.5 778V790M1042.5 774V790M1045.5 784V790M1048.5 788V790M1051.5 786V790M1054.5 783V790M1057.5 782V790M1060.5 785V790M1063.5 783V790M1066.5 786V790M1069.5 785V790M1072.5 782V790M1075.5 775V790M1078.5 753V790M1081.5 769V790M1084.5 765V790M1087.5 770V790M1090.5 772V790M1093.5 767V790M1096.5 762V790M1099.5 756V790M1102.5 767V790M1105.5 773V790M1108.5 779V790M1111.5 779V790M1114.5 780V790M1117.5 784V790M1120.5 785V790M1123.5 778V790M1126.5 778V790M1129.5 784V790M1132.5 783V790M1135.5 784V790M1138.5 786V790M1141.5 785V790M1144.5 782V790M1147.5 777V790M1150.5 770V790M1153.5 767V790M1156.5 772V790M1159.5 774V790M1162.5 772V790M1165.5 759V790M1168.5 764V790M1171.5 739V790M1174.5 763V790M1177.5 767V790M1180.5 771V790M1183.5 754V790M1186.5 772V790M1189.5 783V790M1192.5 786V790M1195.5 785V790M1198.5 779V790M1201.5 782V790M1204.5 785V790M1207.5 785V790M1210.5 782V790M1213.5 783V790M1216.5 779V790M1219.5 774V790M1222.5 762V790M1225.5 764V790M1228.5 771V790M1231.5 762V790M1234.5 774V790M1237.5 760V790M1240.5 757V790M1243.5 754V790M1246.5 763V790M1249.5 772V790M1252.5 773V790M1255.5 779V790M1258.5 780V790M1261.5 780V790M1264.5 786V790M1267.5 785V790M1270.5 784V790M1273.5 783V790M1276.5 782V790M1279.5 781V790M1282.5 784V790M1285.5 784V790M1288.5 781V790M1291.5 776V790M1294.5 769V790M1297.5 766V790M1300.5 772V790M1303.5 777V790M1306.5 770V790M1309.5 768V790M1312.5 767V790M1315.5 768V790M1318.5 767V790M1321.5 777V790M1324.5 778V790M1327.5 782V790M1330.5 781V790M1333.5 784V790M1336.5 788V790M1339.5 788V790M1342.5 783V790M1345.5 781V790M1348.5 779V790M1351.5 782V790M1354.5 785V790M1357.5 784V790M1360.5 783V790M1363.5 782V790M1366.5 778V790M1369.5 770V790M1372.5 768V790M1375.5 776V790M1378.5 774V790M1381.5 775V790M1384.5 764V790M1387.5 762V790M1390.5 763V790M1393.5 770V790M1396.5 778V790M1399.5 781V790M1402.5 782V790M1405.5 781V790M1408.5 784V790M1411.5 786V790M1414.5 783V790M1417.5 780V790M1420.5 779V790M1423.5 782V790M1426.5 783V790M1429.5 785V790M1432.5 783V790M1435.5 783V790M1438.5 775V790M1441.5 762V790M1444.5 772V790M1447.5 772V790M1450.5 774V790M1453.5 774V790M1456.5 770V790M1459.5 756V790M1462.5 759V790M1465.5 770V790M1468.5 776V790M1471.5 776V790M1474.5 778V790M1477.5 781V790M1480.5 783V790M1483.5 788V790M1486.5 786V790M1489.5 780V790M1492.5 782V790M1495.5 784V790M1498.5 773V790M1501.5 779V790M1504.5 782V790M1507.5 781V790M1510.5 788V790" stroke="#0000ff" stroke-width="1" fill="none"/>
<rect x="1510" y="788" width="72" height="1" fill="#000"/>
<rect x="5.5" y="717.5" width="10" height="10" fill="#fff" stroke="#333"/>
<path d="M7.5 719.5L13.5 725.5M13.5 719.5L7.5 725.5" stroke="#333" stroke-width="1" fill="none" shape-rendering="geometricPrecision"/>
<text x="20" y="730" text-anchor="start" fill="#111" font-weight="normal" font-size="12" textLength="48.7" lengthAdjust="spacing">VOLUME</text>
<rect x="72" y="723" width="13" height="2" fill="#0000ff"/>
<rect x="1581" y="737" width="7" height="1" fill="#000"/>
<text x="1618.5" y="743" text-anchor="middle" fill="#000" font-weight="normal" font-size="12">35207</text>
<rect x="1581" y="767" width="7" height="1" fill="#000"/>
<text x="1618.5" y="773" text-anchor="middle" fill="#000" font-weight="normal" font-size="12">14699</text>
<rect x="1583.5" y="780.5" width="70" height="16" fill="#0000ff" stroke="#000" stroke-width="1"/>
<text x="1618.5" y="793" text-anchor="middle" fill="#fff" font-weight="normal" font-size="12">214.66</text>
<path d="M1.5 833V835M4.5 833V835M7.5 833V835M10.5 833V835M13.5 833V835M16.5 833V835M19.5 831V834M22.5 831V834M25.5 833V835M28.5 833V835M31.5 833V835M34.5 833V835M37.5 833V835M40.5 833V835M43.5 833V835M46.5 833V835M49.5 833V835M52.5 833V835M55.5 833V835M58.5 833V835M61.5 833V835M64.5 833V835M67.5 833V835M70.5 831V834M73.5 829V834M76.5 829V834M79.5 828V834M82.5 828V834M85.5 828V834M88.5 828V834M91.5 828V834M94.5 828V834M97.5 828V834M100.5 828V834M103.5 833V834M106.5 833V836M109.5 833V836M112.5 833V837M115.5 833V837M118.5 833V837M121.5 833V838M124.5 833V838M127.5 833V838M130.5 833V838M133.5 833V838M136.5 833V838M139.5 833V838M142.5 833V838M145.5 833V839M148.5 833V840M151.5 833V841M154.5 833V842M157.5 833V843M160.5 833V844M163.5 833V845M166.5 833V846M169.5 833V845M172.5 833V844M175.5 833V844M178.5 833V843M181.5 833V841M184.5 833V840M187.5 833V839M190.5 833V837M193.5 833V837M196.5 833V836M199.5 833V835M202.5 833V835M205.5 833V834M208.5 832V834M211.5 831V834M214.5 830V834M217.5 830V834M220.5 831V834M223.5 831V834M226.5 832V834M229.5 832V834M232.5 833V834M235.5 833V834M238.5 833V834M241.5 833V834M244.5 832V834M247.5 832V834M250.5 831V834M253.5 831V834M256.5 830V834M259.5 829V834M262.5 829V834M265.5 828V834M268.5 828V834M271.5 827V834M274.5 827V834M277.5 827V834M280.5 826V834M283.5 826V834M286.5 825V834M289.5 825V834M292.5 825V834M295.5 825V834M298.5 825V834M301.5 825V834M304.5 826V834M307.5 826V834M310.5 826V834M313.5 826V834M316.5 826V834M319.5 826V834M322.5 827V834M325.5 828V834M328.5 829V834M331.5 829V834M334.5 829V834M337.5 830V834M340.5 831V834M343.5 831V834M346.5 833V834M349.5 833V834M352.5 833V834M355.5 833V835M358.5 833V836M361.5 833V834M364.5 833V834M367.5 833V834M370.5 833V835M373.5 833V836M376.5 833V837M379.5 833V837M382.5 833V837M385.5 833V837M388.5 833V835M391.5 833V834M394.5 833V834M397.5 833V834M400.5 833V834M403.5 833V834M406.5 833V834M409.5 833V834M412.5 831V834M415.5 827V834M418.5 827V834M421.5 827V834M424.5 827V834M427.5 827V834M430.5 827V834M433.5 828V834M436.5 828V834M439.5 829V834M442.5 829V834M445.5 828V834M448.5 827V834M451.5 827V834M454.5 828V834M457.5 829V834M460.5 831V834M463.5 831V834M466.5 831V834M469.5 833V834M472.5 833V834M475.5 833V834M478.5 833V835M481.5 833V836M484.5 833V836M487.5 833V835M490.5 833V834M493.5 833V834M496.5 833V834M499.5 833V834M502.5 833V834M505.5 833V834M508.5 833V834M511.5 833V836M514.5 833V842M517.5 833V855M520.5 833V856M523.5 833V854M526.5 833V852M529.5 833V848M532.5 833V843M535.5 833V839M538.5 833V837M541.5 833V835M544.5 833V834M547.5 832V834M550.5 831V834M553.5 831V834M556.5 830V834M559.5 830V834M562.5 829V834M565.5 829V834M568.5 829V834M571.5 829V834M574.5 827V834M577.5 827V834M580.5 826V834M583.5 826V834M586.5 827V834M589.5 830V834M592.5 833V835M595.5 833V837M598.5 833V838M601.5 833V838M604.5 833V837M607.5 833V837M610.5 833V836M613.5 833V835M616.5 833V835M619.5 833V834M622.5 833V834M625.5 832V834M628.5 831V834M631.5 831V834M634.5 831V834M637.5 829V834M640.5 829V834M643.5 828V834M646.5 827V834M649.5 825V834M652.5 825V834M655.5 825V834M658.5 825V834M661.5 825V834M664.5 825V834M667.5 825V834M670.5 826V834M673.5 827V834M676.5 828V834M679.5 828V834M682.5 829V834M685.5 829V834M688.5 831V834M691.5 831V834M694.5 831V834M697.5 833V834M700.5 833V834M703.5 833V834M706.5 833V834M709.5 833V835M712.5 833V836M715.5 833V837M718.5 833V837M721.5 833V837M724.5 833V836M727.5 833V835M730.5 833V834M733.5 829V834M736.5 827V834M739.5 826V834M742.5 826V834M745.5 827V834M748.5 828V834M751.5 829V834M754.5 829V834M757.5 830V834M760.5 831V834M763.5 831V834M766.5 831V834M769.5 831V834M772.5 831V834M775.5 831V834M778.5 831V834M781.5 832V834M784.5 833V834M787.5 833V835M790.5 833V836M793.5 833V837M796.5 833V838M799.5 833V838M802.5 833V838M805.5 833V837M808.5 833V838M811.5 833V839M814.5 833V834M817.5 831V834M820.5 831V834M823.5 829V834M826.5 829V834M829.5 827V834M832.5 827V834M835.5 826V834M838.5 827V834M841.5 828V834M844.5 829V834M847.5 831V834M850.5 832V834M853.5 833V834M856.5 833V835M859.5 833V836M862.5 833V837M865.5 833V838M868.5 833V840M871.5 833V841M874.5 833V840M877.5 833V838M880.5 833V837M883.5 833V836M886.5 833V834M889.5 831V834M892.5 833V834M895.5 833V834M898.5 833V834M901.5 833V834M904.5 833V834M907.5 833V834M910.5 833V835M913.5 833V834M916.5 833V834M919.5 833V834M922.5 833V834M925.5 833V835M928.5 833V834M931.5 833V834M934.5 833V834M937.5 833V834M940.5 833V834M943.5 833V835M946.5 833V834M949.5 832V834M952.5 829V834M955.5 829V834M958.5 829V834M961.5 829V834M964.5 828V834M967.5 828V834M970.5 829V834M973.5 829V834M976.5 829V834M979.5 831V834M982.5 832V834M985.5 832V834M988.5 832V834M991.5 832V834M994.5 832V834M997.5 832V834M1000.5 832V834M1003.5 832V834M1006.5 832V834M1009.5 832V834M1012.5 831V834M1015.5 831V834M1018.5 831V834M1021.5 831V834M1024.5 829V834M1027.5 830V834M1030.5 831V834M1033.5 833V834M1036.5 833V834M1039.5 833V835M1042.5 833V836M1045.5 833V836M1048.5 833V836M1051.5 833V837M1054.5 833V836M1057.5 833V835M1060.5 833V834M1063.5 833V834M1066.5 833V834M1069.5 833V834M1072.5 833V834M1075.5 833V834M1078.5 833V834M1081.5 833V834M1084.5 833V836M1087.5 833V837M1090.5 833V837M1093.5 833V836M1096.5 833V836M1099.5 833V834M1102.5 831V834M1105.5 831V834M1108.5 830V834M1111.5 830V834M1114.5 830V834M1117.5 830V834M1120.5 830V834M1123.5 827V834M1126.5 829V834M1129.5 829V834M1132.5 829V834M1135.5 830V834M1138.5 831V834M1141.5 831V834M1144.5 833V834M1147.5 833V834M1150.5 833V836M1153.5 833V837M1156.5 833V837M1159.5 833V838M1162.5 833V838M1165.5 833V838M1168.5 833V837M1171.5 833V842M1174.5 833V845M1177.5 833V848M1180.5 833V848M1183.5 833V848M1186.5 833V846M1189.5 833V845M1192.5 833V844M1195.5 833V842M1198.5 833V841M1201.5 833V840M1204.5 833V839M1207.5 833V838M1210.5 833V837M1213.5 833V836M1216.5 833V834M1219.5 833V834M1222.5 831V834M1225.5 831V834M1228.5 828V834M1231.5 826V834M1234.5 824V834M1237.5 824V834M1240.5 824V834M1243.5 824V834M1246.5 824V834M1249.5 825V834M1252.5 826V834M1255.5 826V834M1258.5 826V834M1261.5 826V834M1264.5 826V834M1267.5 827V834M1270.5 828V834M1273.5 829V834M1276.5 829V834M1279.5 830V834M1282.5 830V834M1285.5 830V834M1288.5 829V834M1291.5 829V834M1294.5 829V834M1297.5 827V834M1300.5 827V834M1303.5 826V834M1306.5 826V834M1309.5 826V834M1312.5 827V834M1315.5 827V834M1318.5 827V834M1321.5 827V834M1324.5 827V834M1327.5 828V834M1330.5 829V834M1333.5 829V834M1336.5 831V834M1339.5 831V834M1342.5 833V834M1345.5 833V834M1348.5 833V835M1351.5 833V836M1354.5 833V836M1357.5 833V837M1360.5 833V837M1363.5 833V838M1366.5 833V838M1369.5 833V839M1372.5 833V840M1375.5 833V841M1378.5 833V841M1381.5 833V840M1384.5 833V840M1387.5 833V840M1390.5 833V840M1393.5 833V840M1396.5 833V839M1399.5 833V837M1402.5 833V836M1405.5 833V836M1408.5 833V835M1411.5 833V834M1414.5 832V834M1417.5 831V834M1420.5 829V834M1423.5 829V834M1426.5 831V834M1429.5 831V834M1432.5 831V834M1435.5 831V834M1438.5 831V834M1441.5 829V834M1444.5 829V834M1447.5 828V834M1450.5 829V834M1453.5 830V834M1456.5 831V834M1459.5 833V834M1462.5 832V834M1465.5 831V834M1468.5 831V834M1471.5 831V834M1474.5 830V834M1477.5 830V834M1480.5 830V834M1483.5 831V834M1486.5 831V834M1489.5 832V834M1492.5 832V834M1495.5 832V834M1498.5 831V834M1501.5 830V834M1504.5 830V834M1507.5 831V834M1510.5 832V834" stroke="#ff0000" stroke-width="1" fill="none"/>
<polyline points="0.5,839.9 12.2,841.2 23.9,841.2 35.6,843.2 49.3,845.1 64.9,844.8 74.7,842.2 84.4,838.3 101.0,834.4 109.8,836.0 127.4,839.3 137.1,842.2 148.8,845.1 156.6,850.0 166.4,857.8 176.1,866.6 185.9,871.9 195.7,874.4 203.5,875.8 215.2,873.8 224.9,871.9 234.7,871.9 244.5,873.0 256.2,871.1 267.9,865.6 279.6,861.7 293.2,854.9 305.0,848.1 316.7,842.2 323.5,838.3 335.2,836.0 345.0,836.0 356.7,836.7 368.4,838.3 378.1,839.9 387.9,842.2 397.7,843.2 409.4,843.2 417.2,840.7 425.0,836.4 432.8,833.4 444.5,830.5 456.2,826.2 464.0,824.6 471.8,825.2 483.5,826.6 495.2,827.6 505.0,828.2 511.8,828.9 515.7,834.4 520.6,844.2 526.5,852.9 534.3,858.8 544.0,860.8 553.8,859.8 567.5,856.3 577.2,852.0 587.0,848.5 596.7,850.4 606.5,853.5 616.2,854.9 624.1,854.9 635.8,852.4 646.5,849.6 658.2,841.2 669.9,834.4 681.6,829.5 693.3,827.6 705.0,828.2 714.8,830.5 724.6,832.8 732.4,832.8 738.2,829.5 746.0,826.6 755.8,823.3 767.5,822.3 783.1,822.1 790.9,823.3 800.7,826.0 812.4,830.5 820.2,829.5 828.0,827.0 837.8,822.7 847.5,820.2 859.2,820.7 867.0,822.7 876.8,827.6 886.6,830.5 898.3,831.1 910.0,831.9 925.6,832.5 939.2,833.4 947.1,834.0 954.9,832.1 962.7,828.9 969.5,827.2 981.2,824.3 996.8,824.6 1008.5,823.7 1022.2,822.1 1030.0,820.4 1039.8,821.7 1051.5,824.6 1063.2,826.0 1074.9,827.6 1086.6,828.6 1096.4,830.5 1106.1,830.5 1117.8,826.6 1129.5,822.7 1141.2,821.7 1151.0,822.3 1160.8,825.6 1170.5,828.9 1176.4,836.4 1184.2,844.2 1193.9,852.0 1203.7,857.8 1213.5,861.1 1221.3,860.4 1231.0,857.2 1242.7,849.0 1252.5,842.2 1262.2,836.7 1272.0,832.5 1281.8,831.5 1292.5,830.1 1301.7,826.6 1315.4,819.2 1329.0,812.9 1338.8,811.6 1348.6,812.4 1364.2,815.9 1375.9,821.7 1387.6,827.2 1397.4,832.1 1407.1,834.0 1416.9,833.4 1430.5,832.5 1442.2,830.1 1454.0,827.6 1465.7,827.2 1477.4,825.0 1489.1,824.1 1498.8,823.3 1510.5,820.5" fill="none" stroke="#00ff00" stroke-width="1" stroke-dasharray="6 4"/>
<polyline points="0.5,840.7 8.3,843.2 16.1,843.2 21.0,838.9 24.9,839.9 33.7,844.8 45.4,846.1 61.0,846.1 70.8,843.8 77.6,838.3 86.4,836.4 94.2,833.4 101.0,830.9 105.9,836.4 117.6,840.7 127.4,841.8 141.0,847.7 148.8,848.5 154.7,855.9 166.4,869.5 172.2,873.8 182.0,877.7 190.8,875.4 198.6,877.0 205.4,875.8 215.2,871.1 224.9,871.1 232.7,873.0 242.5,873.8 254.2,869.9 268.9,861.3 277.6,858.8 289.3,851.0 299.1,844.2 305.0,842.2 312.8,838.3 318.6,837.3 323.5,835.0 329.4,833.8 335.2,832.8 343.0,834.4 358.6,838.7 370.3,839.3 378.1,842.6 386.0,844.8 401.6,843.8 409.4,842.6 415.2,837.3 419.1,833.4 425.0,831.5 432.8,828.9 445.5,826.6 449.4,823.7 456.2,822.7 465.0,823.1 471.8,825.0 484.5,828.9 491.3,828.9 499.1,828.2 505.0,828.2 510.9,830.9 513.8,838.3 517.7,857.8 521.6,865.6 527.4,871.1 531.4,869.1 538.2,864.3 546.0,860.8 557.7,856.3 573.3,851.6 581.1,846.1 586.6,843.8 590.9,847.1 596.7,853.9 602.6,855.9 609.4,857.2 614.3,854.9 620.2,855.9 628.0,853.5 635.8,850.4 646.5,844.6 654.3,836.4 662.1,831.5 669.9,828.2 679.7,826.0 695.3,826.0 699.2,828.6 705.0,828.9 712.9,832.8 720.7,834.4 724.6,835.8 730.4,833.4 736.3,825.6 742.1,822.7 748.0,821.3 753.8,822.1 759.7,820.7 767.5,821.7 773.4,820.7 783.1,821.3 790.9,825.6 798.7,829.9 806.5,832.8 811.4,834.4 818.2,828.9 826.1,825.0 830.9,820.7 837.8,817.2 843.6,817.2 849.5,819.8 857.3,821.7 863.1,824.6 869.0,829.5 872.9,833.0 878.7,833.4 884.6,832.5 889.5,829.9 894.4,831.1 906.1,831.1 911.0,832.8 915.8,832.1 925.6,833.0 935.3,833.0 939.2,835.0 947.1,835.0 952.9,828.9 960.7,826.2 969.5,825.0 977.3,821.7 983.2,824.1 998.8,824.1 1012.4,822.1 1020.2,821.3 1025.1,818.8 1031.0,818.8 1041.7,824.6 1051.5,828.0 1063.2,826.6 1071.0,828.9 1080.7,828.0 1090.5,832.8 1097.3,832.8 1106.1,827.2 1117.8,824.6 1127.6,820.2 1142.2,820.2 1151.0,825.6 1162.7,831.5 1169.5,832.1 1173.4,839.9 1179.3,850.4 1188.1,861.3 1199.8,864.1 1209.6,863.3 1221.3,860.2 1229.1,854.9 1235.9,845.1 1248.6,837.7 1254.4,836.7 1262.2,832.1 1270.1,828.9 1276.9,828.9 1280.8,830.1 1287.6,829.9 1292.5,828.0 1305.6,818.8 1315.4,814.9 1327.1,810.0 1340.8,810.0 1352.5,815.5 1368.1,821.3 1376.9,828.9 1382.7,829.9 1393.5,837.9 1411.0,836.7 1420.8,831.9 1436.4,830.9 1447.1,826.0 1455.9,826.0 1460.8,827.6 1469.6,826.0 1475.4,822.7 1487.1,821.7 1493.0,824.1 1496.9,823.3 1501.8,820.2 1510.5,819.5" fill="none" stroke="#0000ff" stroke-width="1"/>
<rect x="1510" y="819" width="72" height="2" fill="#000"/>
<rect x="1510" y="832" width="72" height="1" fill="#000"/>
<rect x="5.5" y="805.5" width="10" height="10" fill="#fff" stroke="#333"/>
<path d="M7.5 807.5L13.5 813.5M13.5 807.5L7.5 813.5" stroke="#333" stroke-width="1" fill="none" shape-rendering="geometricPrecision"/>
<text x="20.5" y="818" fill="#111" textLength="282.2" lengthAdjust="spacing">MACD: (12, 26, 9) (<tspan fill="#0000ff">MACD,</tspan> <tspan fill="#00ff00">MACD Signal,</tspan> <tspan fill="#ff0000">MACD Hist</tspan>)</text>
<rect x="1581" y="855" width="7" height="1" fill="#000"/>
<text x="1588" y="861" text-anchor="start" fill="#000" font-weight="normal" font-size="12">-0.0020573</text>
<rect x="1583.5" y="811.5" width="70" height="16" fill="#0000ff" stroke="#000" stroke-width="1"/>
<text x="1618.5" y="824" text-anchor="middle" fill="#fff" font-weight="normal" font-size="12">0.001115</text>
<rect x="1583.5" y="812.5" width="70" height="16" fill="#00ff00" stroke="#000" stroke-width="1"/>
<text x="1618.5" y="825" text-anchor="middle" fill="#000" font-weight="normal" font-size="12">0.001115</text>
<rect x="1583.5" y="824.5" width="70" height="16" fill="#ff0000" stroke="#000" stroke-width="1"/>
<text x="1618.5" y="837" text-anchor="middle" fill="#fff" font-weight="normal" font-size="12">0.000093</text>
<text x="3" y="895" text-anchor="start" fill="#000" font-weight="normal" font-size="12">2013</text>
<rect x="51" y="884" width="1" height="13" fill="#000"/>
<text x="54" y="895" text-anchor="start" fill="#000" font-weight="normal" font-size="12">01:00 30 Oct</text>
<rect x="141" y="884" width="1" height="13" fill="#000"/>
<text x="144" y="895" text-anchor="start" fill="#000" font-weight="normal" font-size="12">07:00 31 Oct</text>
<rect x="231" y="884" width="1" height="13" fill="#000"/>
<text x="234" y="895" text-anchor="start" fill="#000" font-weight="normal" font-size="12">13:00 01 Nov</text>
<rect x="321" y="884" width="1" height="13" fill="#000"/>
<text x="324" y="895" text-anchor="start" fill="#000" font-weight="normal" font-size="12">20:00 04 Nov</text>
<rect x="411" y="884" width="1" height="13" fill="#000"/>
<text x="414" y="895" text-anchor="start" fill="#000" font-weight="normal" font-size="12">02:00 06 Nov</text>
<rect x="501" y="884" width="1" height="13" fill="#000"/>
<text x="504" y="895" text-anchor="start" fill="#000" font-weight="normal" font-size="12">08:00 07 Nov</text>
<rect x="591" y="884" width="1" height="13" fill="#000"/>
<text x="594" y="895" text-anchor="start" fill="#000" font-weight="normal" font-size="12">14:00 08 Nov</text>
<rect x="681" y="884" width="1" height="13" fill="#000"/>
<text x="684" y="895" text-anchor="start" fill="#000" font-weight="normal" font-size="12">20:00 11 Nov</text>
<rect x="771" y="884" width="1" height="13" fill="#000"/>
<text x="774" y="895" text-anchor="start" fill="#000" font-weight="normal" font-size="12">02:00 13 Nov</text>
<rect x="861" y="884" width="1" height="13" fill="#000"/>
<text x="864" y="895" text-anchor="start" fill="#000" font-weight="normal" font-size="12">08:00 14 Nov</text>
<rect x="951" y="884" width="1" height="13" fill="#000"/>
<text x="954" y="895" text-anchor="start" fill="#000" font-weight="normal" font-size="12">14:00 15 Nov</text>
<rect x="1041" y="884" width="1" height="13" fill="#000"/>
<text x="1044" y="895" text-anchor="start" fill="#000" font-weight="normal" font-size="12">20:00 18 Nov</text>
<rect x="1131" y="884" width="1" height="13" fill="#000"/>
<text x="1134" y="895" text-anchor="start" fill="#000" font-weight="normal" font-size="12">02:00 20 Nov</text>
<rect x="1221" y="884" width="1" height="13" fill="#000"/>
<text x="1224" y="895" text-anchor="start" fill="#000" font-weight="normal" font-size="12">08:00 21 Nov</text>
<rect x="1311" y="884" width="1" height="13" fill="#000"/>
<text x="1314" y="895" text-anchor="start" fill="#000" font-weight="normal" font-size="12">14:00 22 Nov</text>
<rect x="1401" y="884" width="1" height="13" fill="#000"/>
<text x="1404" y="895" text-anchor="start" fill="#000" font-weight="normal" font-size="12">19:00 25 Nov</text>
<rect x="1491" y="884" width="1" height="13" fill="#000"/>
<text x="1494" y="895" text-anchor="start" fill="#000" font-weight="normal" font-size="12">01:00 27 Nov</text>
<text x="1654" y="895" text-anchor="end" fill="#000" font-weight="normal" font-size="12">Nov 2013</text>
</svg></body></html>
